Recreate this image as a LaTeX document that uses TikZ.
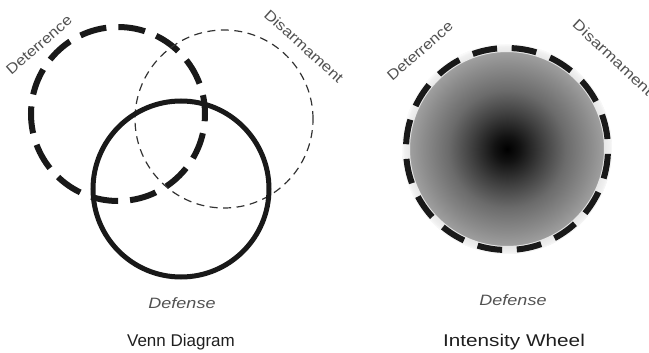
\documentclass[tikz,border=0pt]{standalone}
\usepackage{fontspec}
\setmainfont{Liberation Sans}
\pgfdeclareradialshading{wheelshade}{\pgfpoint{0bp}{0bp}}{%
  color(0bp)=(black); color(3bp)=(black!93); color(8.5bp)=(black!75);
  color(14bp)=(black!58); color(20bp)=(black!45); color(23bp)=(black!38);
  color(24.5bp)=(black!22); color(25bp)=(black!6); color(50bp)=(white)}
\begin{document}
\begin{tikzpicture}[x=1pt,y=-1pt,
  ring/.style={circle, inner sep=0pt, outer sep=0pt},
  thickdash/.style={ring, draw=black!90, line width=6pt, dash pattern=on 27pt off 12.1pt, dash phase=8pt},
  thindash/.style={ring, draw=black!80, line width=1.2pt, dash pattern=on 8pt off 5.5pt},
  solidring/.style={ring, draw=black!90, line width=5pt},
  lbl/.style={inner sep=0pt, text=black!68, font=\fontsize{14.5}{17}\selectfont},
  deflbl/.style={inner sep=0pt, text=black!68, font=\fontsize{15}{18}\selectfont\itshape},
  title/.style={inner sep=0pt, text=black!88, font=\fontsize{17}{20}\selectfont}]
\useasboundingbox (0,0) rectangle (649,353);
% Venn diagram
\node[thickdash, minimum size=174pt] (det) at (118,114) {};
\node[thindash, minimum size=178pt] (dis) at (224,119) {};
\node[solidring, minimum size=176pt] (def) at (181,189) {};
\node[lbl, rotate=41, xscale=1.14] (detl) at (39,45) {Deterrence};
\node[lbl, rotate=-42, xscale=1.17] (disl) at (304,46) {Disarmament};
\node[deflbl, xscale=1.2] (defl) at (182,303) {Defense};
\node[title] (venn) at (181,342) {Venn Diagram};
% Intensity wheel
\node[ring, minimum size=210pt, shading=wheelshade] (wheel) at (507,149) {};
\node[ring, minimum size=202pt, draw=white, draw opacity=0.75, line width=8pt] (halo) at (507,149) {};
\node[ring, minimum size=202pt, draw=black!90, line width=6pt, dash pattern=on 25pt off 14.65pt, dash phase=-10pt] (wdash) at (507,149) {};
\node[lbl, rotate=41, xscale=1.14] (detr) at (420,51) {Deterrence};
\node[lbl, rotate=-43, xscale=1.2, anchor=west] (disr) at (575,22) {Disarmament};
\node[deflbl, xscale=1.2] (defr) at (513,300) {Defense};
\node[title, xscale=1.22] (iw) at (514,342) {Intensity Wheel};
\end{tikzpicture}
\end{document}
